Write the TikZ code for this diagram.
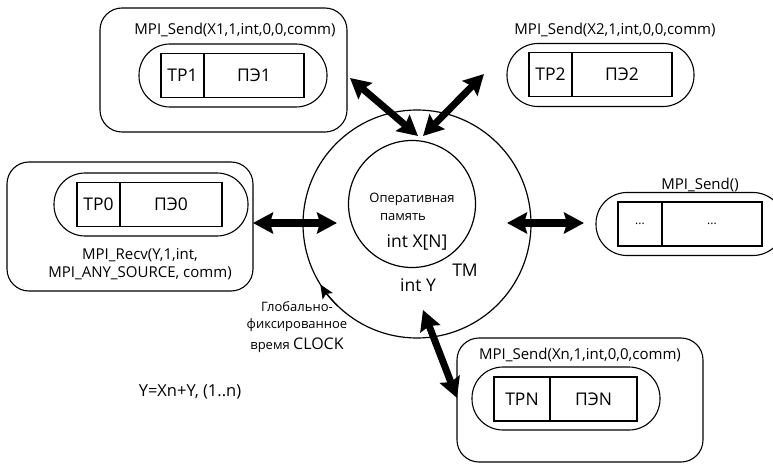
\documentclass[tikz,border=0pt]{standalone}
\usepackage{fontspec}
\setmainfont{Open Sans}
\usetikzlibrary{arrows.meta}
\begin{document}
\begin{tikzpicture}[x=1pt,y=1pt,
  obox/.style={draw,line width=1.1pt,rounded corners=22pt,inner sep=0pt},
  stad/.style={draw,line width=1.1pt,rounded corners=31pt,minimum height=63pt,inner sep=0pt},
  cell/.style={draw,line width=1.1pt,minimum height=44pt,inner sep=0pt,font=\fontsize{17.5}{20}\selectfont},
  lbl/.style={inner sep=0pt,font=\fontsize{15}{17}\selectfont},
  small/.style={inner sep=0pt,font=\fontsize{13}{15}\selectfont},
  mid/.style={inner sep=0pt,font=\fontsize{17.5}{20}\selectfont},
  clk/.style={inner sep=0pt,font=\fontsize{13}{15}\selectfont},
  bigarrow/.style={line width=7pt,{Stealth[length=20pt,width=21pt,inset=3pt]}-{Stealth[length=20pt,width=21pt,inset=3pt]}}]
\useasboundingbox (0,0) rectangle (773,464);
\clip (0,0) rectangle (773,464);

% --- box 1 (top left)
\node[obox,minimum width=247pt,minimum height=124pt] (b1) at (223.5,394) {};
\node[lbl] (t1) at (235,434) {MPI\_Send(X1,1,int,0,0,comm)};
\node[stad,minimum width=188pt] (s1) at (233,388.5) {};
\node[cell,minimum width=43pt] (tp1) at (182.5,388.5) {TP1};
\node[cell,minimum width=100pt] (pe1) at (254,388.5) {ПЭ1};

% --- box 2 (top right)
\node[lbl] (t2) at (615,434) {MPI\_Send(X2,1,int,0,0,comm)};
\node[stad,minimum width=187pt] (s2) at (600.5,389) {};
\node[cell,minimum width=43pt] (tp2) at (550.5,389.5) {TP2};
\node[cell,minimum width=100pt] (pe2) at (622,389.5) {ПЭ2};

% --- box 0 (left)
\node[obox,minimum width=246pt,minimum height=129pt] (b0) at (130,237.5) {};
\node[stad,minimum width=194pt] (s0) at (151,259.5) {};
\node[cell,minimum width=43pt] (tp0) at (98.5,259.5) {TP0};
\node[cell,minimum width=102pt] (pe0) at (171,259.5) {ПЭ0};
\node[lbl] (t0a) at (140,209) {MPI\_Recv(Y,1,int,};
\node[lbl] (t0b) at (140,191) {MPI\_ANY\_SOURCE, comm)};

% --- right box
\node[lbl] (tr) at (700,279) {MPI\_Send()};
\node[stad,minimum width=188pt] (sr) at (690,240) {};
\node[cell,minimum width=44pt,font=\fontsize{12}{14}\selectfont] (tpr) at (640,240) {...};
\node[cell,minimum width=100pt,font=\fontsize{12}{14}\selectfont] (per) at (712,240) {...};

% --- box N (bottom right)
\node[obox,minimum width=246pt,minimum height=124pt] (bn) at (580,64) {};
\node[lbl] (tn) at (580,109) {MPI\_Send(Xn,1,int,0,0,comm)};
\node[stad,minimum width=188pt] (sn) at (566,65.5) {};
\node[cell,minimum width=56pt] (tpn) at (522,65) {TPN};
\node[cell,minimum width=87pt] (pen) at (593.5,65) {ПЭN};

% --- memory circles
\node[draw,line width=1.2pt,circle,minimum size=228pt,inner sep=0pt] (tm) at (417,240) {};
\node[draw,line width=1.2pt,circle,minimum size=127pt,inner sep=0pt] (ram) at (412,260) {};
\node[small] (r1) at (412,265) {Оперативная};
\node[small] (r2) at (403,247) {память};
\node[mid] (rx) at (417,222) {int X[N]};
\node[mid] (tml) at (465,194) {TM};
\node[mid] (ry) at (418,179) {int Y};

% --- clock label
\node[clk] (c1) at (297,157) {Глобально-};
\node[clk] (c2) at (297,139) {фиксированное};
\node[clk] (c3) at (297,119) {время \fontsize{16}{18}\selectfont CLOCK};
\draw[line width=1.2pt,-{Stealth[length=14pt,width=12pt,inset=3pt]}] (tm.center) ++(226:114) arc (226:212:114);

% --- formula
\node[inner sep=0pt,font=\fontsize{16.5}{19}\selectfont] (f) at (190,72) {Y=Xn+Y, (1..n)};

% --- arrow end points
\coordinate (a1s) at (350,386);
\coordinate (a1e) at (418,328);
\coordinate (a2s) at (484,390);
\coordinate (a2e) at (423,328);
\coordinate (a0s) at (253,241);
\coordinate (a0e) at (337,241);
\coordinate (ars) at (507,241);
\coordinate (are) at (584,241);
\coordinate (ans) at (423,154);
\coordinate (ane) at (457,66);

\draw[bigarrow] (a1s) -- (a1e);
\draw[bigarrow] (a2s) -- (a2e);
\draw[bigarrow] (a0s) -- (a0e);
\draw[bigarrow] (ars) -- (are);
\draw[bigarrow] (ans) -- (ane);
\end{tikzpicture}
\end{document}
